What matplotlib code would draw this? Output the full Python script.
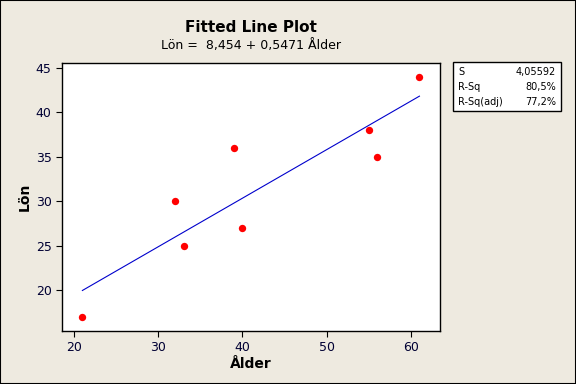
import matplotlib
matplotlib.use("Agg")
import matplotlib.pyplot as plt
import numpy as np

alder = [21, 32, 33, 39, 40, 55, 56, 61]
lon = [17, 30, 25, 36, 27, 38, 35, 44]
intercept = 8.454
slope = 0.5471
stats_labels = ["S", "R-Sq", "R-Sq(adj)"]
stats_values = ["4,05592", "80,5%", "77,2%"]

bg = "#EEEAE0"
W, H = 576, 384
fig = plt.figure(figsize=(W/100, H/100), dpi=100, facecolor=bg)
fig.patches.append(plt.Rectangle((0, 0), 1, 1, transform=fig.transFigure,
                                 fill=False, edgecolor="black", linewidth=1.5))

l, r, t, b = 62, 440, 63, 331
ax = fig.add_axes([l/W, 1 - b/H, (r-l)/W, (b-t)/H])
ax.set_facecolor("white")

xs = np.array([min(alder), max(alder)])
ax.plot(xs, intercept + slope*xs, color="#0000CC", linewidth=0.8)
ax.scatter(alder, lon, color="#FF0000", s=28, zorder=3, linewidths=0)

ax.set_xlim(18.58, 63.44)
ax.set_ylim(15.38, 45.56)
ax.set_xticks([20, 30, 40, 50, 60])
ax.set_yticks([20, 25, 30, 35, 40, 45])
ax.tick_params(direction="out", length=4, labelsize=9, colors="black",
               top=False, right=False)
for lab in ax.get_xticklabels() + ax.get_yticklabels():
    lab.set_color("#000033")
for s in ax.spines.values():
    s.set_linewidth(1.0)

ax.set_xlabel("Ålder", fontsize=10, fontweight="bold", labelpad=2)
ax.set_ylabel("Lön", fontsize=10, fontweight="bold", labelpad=3)

fig.text(0.5*(l+r)/W, 1 - 28/H, "Fitted Line Plot", ha="center", va="center",
         fontsize=11, fontweight="bold")
fig.text(0.5*(l+r)/W, 1 - 45/H, "Lön =  8,454 + 0,5471 Ålder", ha="center",
         va="center", fontsize=9)

# stats box
bx0, by0, bx1, by1 = 453, 62, 561, 111
fig.patches.append(plt.Rectangle((bx0/W, 1 - by1/H), (bx1-bx0)/W, (by1-by0)/H,
                                 transform=fig.transFigure, facecolor="white",
                                 edgecolor="black", linewidth=1.0))
for i, (lab, val) in enumerate(zip(stats_labels, stats_values)):
    yy = 1 - (72 + i*15)/H
    fig.text((bx0+5)/W, yy, lab, ha="left", va="center", fontsize=7)
    fig.text((bx1-5)/W, yy, val, ha="right", va="center", fontsize=7)

fig.savefig("out.png", dpi=100, facecolor=bg)
